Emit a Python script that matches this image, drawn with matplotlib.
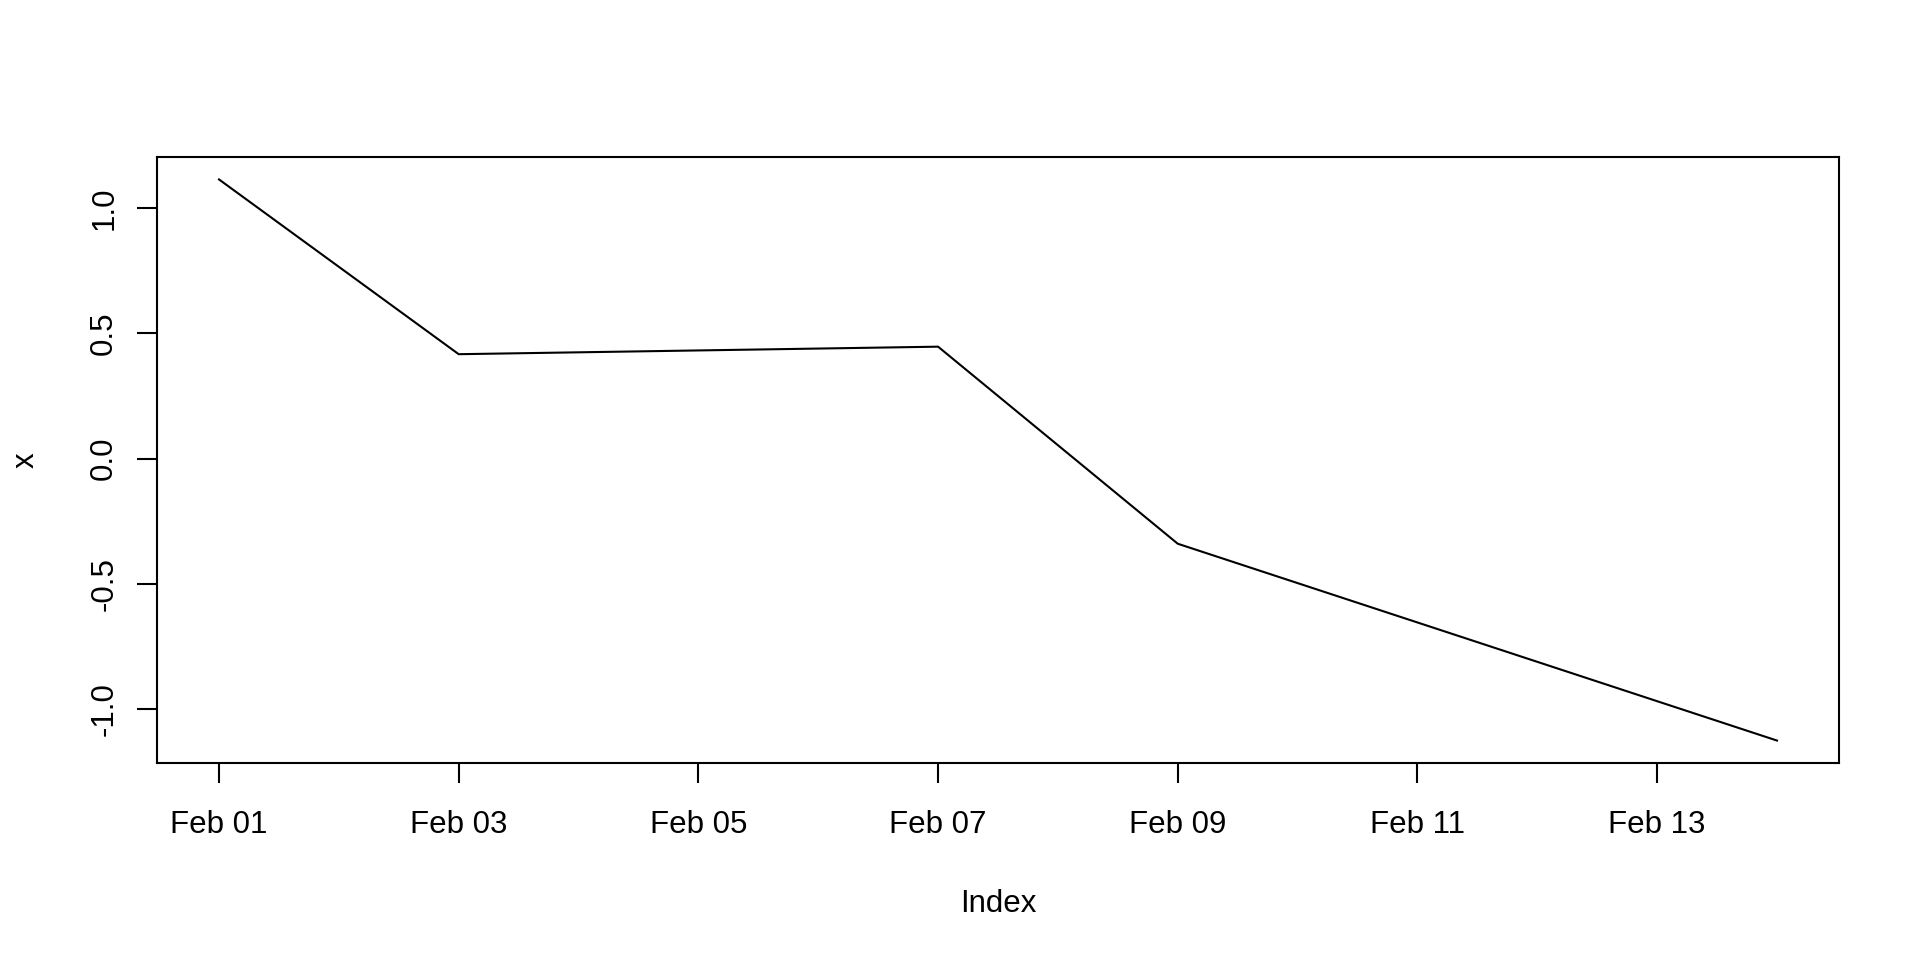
import matplotlib
matplotlib.use("Agg")
import matplotlib.pyplot as plt
import matplotlib.dates as mdates
import numpy as np
import datetime as dt

plt.rcParams['font.family'] = ['Liberation Sans', 'DejaVu Sans']

dates = ["2024-02-01", "2024-02-03", "2024-02-07", "2024-02-09", "2024-02-14"]
values = [1.114, 0.417, 0.447, -0.339, -1.124]
xtick_dates = ["2024-02-01", "2024-02-03", "2024-02-05", "2024-02-07",
               "2024-02-09", "2024-02-11", "2024-02-13"]
ytick_vals = [-1.0, -0.5, 0.0, 0.5, 1.0]

d = [dt.datetime.strptime(s, "%Y-%m-%d") for s in dates]
xt = [dt.datetime.strptime(s, "%Y-%m-%d") for s in xtick_dates]

fig = plt.figure(figsize=(19.2, 9.6), dpi=100)
ax = fig.add_axes([156.7/1920, 1-763/960, (1839.3-156.7)/1920, (763-157)/960])
ax.plot(d, values, color='black', linewidth=1.5)

# R-style 4% axis extension
xn = mdates.date2num(d)
xr = xn.max() - xn.min()
ax.set_xlim(xn.min() - 0.04*xr, xn.max() + 0.04*xr)
yr = max(values) - min(values)
ax.set_ylim(min(values) - 0.04*yr, max(values) + 0.04*yr)

ax.set_xticks(xt)
ax.xaxis.set_major_formatter(mdates.DateFormatter("%b %d"))
ax.set_yticks(ytick_vals)
ax.set_yticklabels([f"{v:.1f}" for v in ytick_vals], rotation=90, va='center')

for s in ax.spines.values():
    s.set_linewidth(1.5)
ax.tick_params(axis='both', length=14.5, width=1.5, labelsize=22.5, direction='out')
ax.tick_params(axis='x', pad=19.5)
ax.tick_params(axis='y', pad=12.5)

ax.set_xlabel("Index", fontsize=22.5, labelpad=35)
ax.set_ylabel("x", fontsize=22.5, labelpad=35)

fig.savefig("out.png", dpi=100, facecolor='white')
